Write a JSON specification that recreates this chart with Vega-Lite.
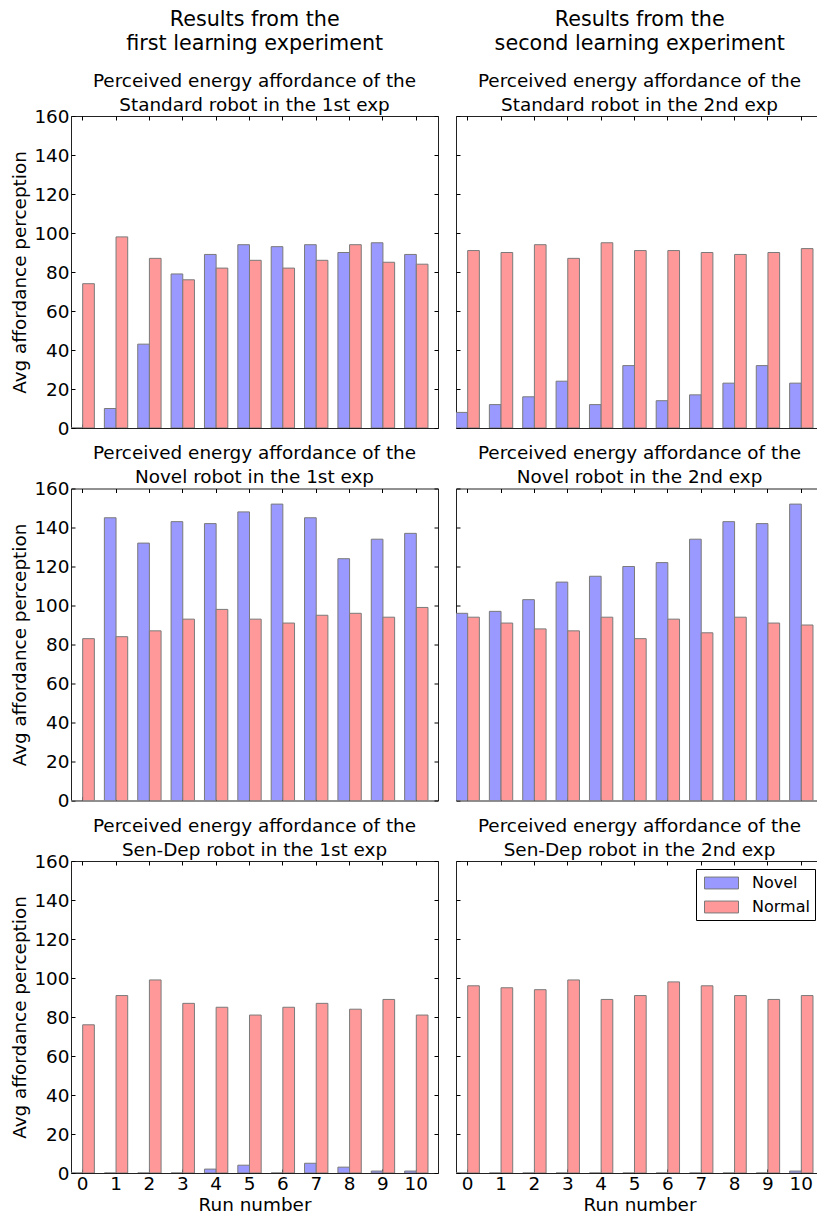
{
  "$schema": "https://vega.github.io/schema/vega-lite/v6.json",
  "padding": {"left": 10, "top": 9, "right": 0, "bottom": 0},
  "background": "white",
  "config": {
    "font": "DejaVu Sans",
    "view": {"stroke": "#222", "strokeWidth": 1},
    "axis": {"grid": false, "domain": false, "tickColor": "#000", "tickSize": -4, "labelFontSize": 18.4, "labelColor": "#000", "titleFontSize": 18.4, "titleFontWeight": "normal", "titleColor": "#000", "labelPadding": 6, "labelAngle": 0},
    "axisX": {"labelPadding": 5},
    "title": {"fontSize": 18.4, "fontWeight": "normal", "color": "#000", "lineHeight": 24, "offset": -7, "anchor": "middle"},
    "concat": {"spacing": 5.5}
  },
  "datasets": {
    "d": [
      {"exp": "1st", "robot": "Standard", "run": 0, "series": "Novel", "value": 0},
      {"exp": "1st", "robot": "Standard", "run": 0, "series": "Normal", "value": 74},
      {"exp": "1st", "robot": "Standard", "run": 1, "series": "Novel", "value": 10},
      {"exp": "1st", "robot": "Standard", "run": 1, "series": "Normal", "value": 98},
      {"exp": "1st", "robot": "Standard", "run": 2, "series": "Novel", "value": 43},
      {"exp": "1st", "robot": "Standard", "run": 2, "series": "Normal", "value": 87},
      {"exp": "1st", "robot": "Standard", "run": 3, "series": "Novel", "value": 79},
      {"exp": "1st", "robot": "Standard", "run": 3, "series": "Normal", "value": 76},
      {"exp": "1st", "robot": "Standard", "run": 4, "series": "Novel", "value": 89},
      {"exp": "1st", "robot": "Standard", "run": 4, "series": "Normal", "value": 82},
      {"exp": "1st", "robot": "Standard", "run": 5, "series": "Novel", "value": 94},
      {"exp": "1st", "robot": "Standard", "run": 5, "series": "Normal", "value": 86},
      {"exp": "1st", "robot": "Standard", "run": 6, "series": "Novel", "value": 93},
      {"exp": "1st", "robot": "Standard", "run": 6, "series": "Normal", "value": 82},
      {"exp": "1st", "robot": "Standard", "run": 7, "series": "Novel", "value": 94},
      {"exp": "1st", "robot": "Standard", "run": 7, "series": "Normal", "value": 86},
      {"exp": "1st", "robot": "Standard", "run": 8, "series": "Novel", "value": 90},
      {"exp": "1st", "robot": "Standard", "run": 8, "series": "Normal", "value": 94},
      {"exp": "1st", "robot": "Standard", "run": 9, "series": "Novel", "value": 95},
      {"exp": "1st", "robot": "Standard", "run": 9, "series": "Normal", "value": 85},
      {"exp": "1st", "robot": "Standard", "run": 10, "series": "Novel", "value": 89},
      {"exp": "1st", "robot": "Standard", "run": 10, "series": "Normal", "value": 84},

      {"exp": "2nd", "robot": "Standard", "run": 0, "series": "Novel", "value": 8},
      {"exp": "2nd", "robot": "Standard", "run": 0, "series": "Normal", "value": 91},
      {"exp": "2nd", "robot": "Standard", "run": 1, "series": "Novel", "value": 12},
      {"exp": "2nd", "robot": "Standard", "run": 1, "series": "Normal", "value": 90},
      {"exp": "2nd", "robot": "Standard", "run": 2, "series": "Novel", "value": 16},
      {"exp": "2nd", "robot": "Standard", "run": 2, "series": "Normal", "value": 94},
      {"exp": "2nd", "robot": "Standard", "run": 3, "series": "Novel", "value": 24},
      {"exp": "2nd", "robot": "Standard", "run": 3, "series": "Normal", "value": 87},
      {"exp": "2nd", "robot": "Standard", "run": 4, "series": "Novel", "value": 12},
      {"exp": "2nd", "robot": "Standard", "run": 4, "series": "Normal", "value": 95},
      {"exp": "2nd", "robot": "Standard", "run": 5, "series": "Novel", "value": 32},
      {"exp": "2nd", "robot": "Standard", "run": 5, "series": "Normal", "value": 91},
      {"exp": "2nd", "robot": "Standard", "run": 6, "series": "Novel", "value": 14},
      {"exp": "2nd", "robot": "Standard", "run": 6, "series": "Normal", "value": 91},
      {"exp": "2nd", "robot": "Standard", "run": 7, "series": "Novel", "value": 17},
      {"exp": "2nd", "robot": "Standard", "run": 7, "series": "Normal", "value": 90},
      {"exp": "2nd", "robot": "Standard", "run": 8, "series": "Novel", "value": 23},
      {"exp": "2nd", "robot": "Standard", "run": 8, "series": "Normal", "value": 89},
      {"exp": "2nd", "robot": "Standard", "run": 9, "series": "Novel", "value": 32},
      {"exp": "2nd", "robot": "Standard", "run": 9, "series": "Normal", "value": 90},
      {"exp": "2nd", "robot": "Standard", "run": 10, "series": "Novel", "value": 23},
      {"exp": "2nd", "robot": "Standard", "run": 10, "series": "Normal", "value": 92},

      {"exp": "1st", "robot": "Novel", "run": 0, "series": "Novel", "value": 0},
      {"exp": "1st", "robot": "Novel", "run": 0, "series": "Normal", "value": 83},
      {"exp": "1st", "robot": "Novel", "run": 1, "series": "Novel", "value": 145},
      {"exp": "1st", "robot": "Novel", "run": 1, "series": "Normal", "value": 84},
      {"exp": "1st", "robot": "Novel", "run": 2, "series": "Novel", "value": 132},
      {"exp": "1st", "robot": "Novel", "run": 2, "series": "Normal", "value": 87},
      {"exp": "1st", "robot": "Novel", "run": 3, "series": "Novel", "value": 143},
      {"exp": "1st", "robot": "Novel", "run": 3, "series": "Normal", "value": 93},
      {"exp": "1st", "robot": "Novel", "run": 4, "series": "Novel", "value": 142},
      {"exp": "1st", "robot": "Novel", "run": 4, "series": "Normal", "value": 98},
      {"exp": "1st", "robot": "Novel", "run": 5, "series": "Novel", "value": 148},
      {"exp": "1st", "robot": "Novel", "run": 5, "series": "Normal", "value": 93},
      {"exp": "1st", "robot": "Novel", "run": 6, "series": "Novel", "value": 152},
      {"exp": "1st", "robot": "Novel", "run": 6, "series": "Normal", "value": 91},
      {"exp": "1st", "robot": "Novel", "run": 7, "series": "Novel", "value": 145},
      {"exp": "1st", "robot": "Novel", "run": 7, "series": "Normal", "value": 95},
      {"exp": "1st", "robot": "Novel", "run": 8, "series": "Novel", "value": 124},
      {"exp": "1st", "robot": "Novel", "run": 8, "series": "Normal", "value": 96},
      {"exp": "1st", "robot": "Novel", "run": 9, "series": "Novel", "value": 134},
      {"exp": "1st", "robot": "Novel", "run": 9, "series": "Normal", "value": 94},
      {"exp": "1st", "robot": "Novel", "run": 10, "series": "Novel", "value": 137},
      {"exp": "1st", "robot": "Novel", "run": 10, "series": "Normal", "value": 99},

      {"exp": "2nd", "robot": "Novel", "run": 0, "series": "Novel", "value": 96},
      {"exp": "2nd", "robot": "Novel", "run": 0, "series": "Normal", "value": 94},
      {"exp": "2nd", "robot": "Novel", "run": 1, "series": "Novel", "value": 97},
      {"exp": "2nd", "robot": "Novel", "run": 1, "series": "Normal", "value": 91},
      {"exp": "2nd", "robot": "Novel", "run": 2, "series": "Novel", "value": 103},
      {"exp": "2nd", "robot": "Novel", "run": 2, "series": "Normal", "value": 88},
      {"exp": "2nd", "robot": "Novel", "run": 3, "series": "Novel", "value": 112},
      {"exp": "2nd", "robot": "Novel", "run": 3, "series": "Normal", "value": 87},
      {"exp": "2nd", "robot": "Novel", "run": 4, "series": "Novel", "value": 115},
      {"exp": "2nd", "robot": "Novel", "run": 4, "series": "Normal", "value": 94},
      {"exp": "2nd", "robot": "Novel", "run": 5, "series": "Novel", "value": 120},
      {"exp": "2nd", "robot": "Novel", "run": 5, "series": "Normal", "value": 83},
      {"exp": "2nd", "robot": "Novel", "run": 6, "series": "Novel", "value": 122},
      {"exp": "2nd", "robot": "Novel", "run": 6, "series": "Normal", "value": 93},
      {"exp": "2nd", "robot": "Novel", "run": 7, "series": "Novel", "value": 134},
      {"exp": "2nd", "robot": "Novel", "run": 7, "series": "Normal", "value": 86},
      {"exp": "2nd", "robot": "Novel", "run": 8, "series": "Novel", "value": 143},
      {"exp": "2nd", "robot": "Novel", "run": 8, "series": "Normal", "value": 94},
      {"exp": "2nd", "robot": "Novel", "run": 9, "series": "Novel", "value": 142},
      {"exp": "2nd", "robot": "Novel", "run": 9, "series": "Normal", "value": 91},
      {"exp": "2nd", "robot": "Novel", "run": 10, "series": "Novel", "value": 152},
      {"exp": "2nd", "robot": "Novel", "run": 10, "series": "Normal", "value": 90},

      {"exp": "1st", "robot": "Sen-Dep", "run": 0, "series": "Novel", "value": 0},
      {"exp": "1st", "robot": "Sen-Dep", "run": 0, "series": "Normal", "value": 76},
      {"exp": "1st", "robot": "Sen-Dep", "run": 1, "series": "Novel", "value": 0},
      {"exp": "1st", "robot": "Sen-Dep", "run": 1, "series": "Normal", "value": 91},
      {"exp": "1st", "robot": "Sen-Dep", "run": 2, "series": "Novel", "value": 0},
      {"exp": "1st", "robot": "Sen-Dep", "run": 2, "series": "Normal", "value": 99},
      {"exp": "1st", "robot": "Sen-Dep", "run": 3, "series": "Novel", "value": 0},
      {"exp": "1st", "robot": "Sen-Dep", "run": 3, "series": "Normal", "value": 87},
      {"exp": "1st", "robot": "Sen-Dep", "run": 4, "series": "Novel", "value": 2},
      {"exp": "1st", "robot": "Sen-Dep", "run": 4, "series": "Normal", "value": 85},
      {"exp": "1st", "robot": "Sen-Dep", "run": 5, "series": "Novel", "value": 4},
      {"exp": "1st", "robot": "Sen-Dep", "run": 5, "series": "Normal", "value": 81},
      {"exp": "1st", "robot": "Sen-Dep", "run": 6, "series": "Novel", "value": 0},
      {"exp": "1st", "robot": "Sen-Dep", "run": 6, "series": "Normal", "value": 85},
      {"exp": "1st", "robot": "Sen-Dep", "run": 7, "series": "Novel", "value": 5},
      {"exp": "1st", "robot": "Sen-Dep", "run": 7, "series": "Normal", "value": 87},
      {"exp": "1st", "robot": "Sen-Dep", "run": 8, "series": "Novel", "value": 3},
      {"exp": "1st", "robot": "Sen-Dep", "run": 8, "series": "Normal", "value": 84},
      {"exp": "1st", "robot": "Sen-Dep", "run": 9, "series": "Novel", "value": 1},
      {"exp": "1st", "robot": "Sen-Dep", "run": 9, "series": "Normal", "value": 89},
      {"exp": "1st", "robot": "Sen-Dep", "run": 10, "series": "Novel", "value": 1},
      {"exp": "1st", "robot": "Sen-Dep", "run": 10, "series": "Normal", "value": 81},

      {"exp": "2nd", "robot": "Sen-Dep", "run": 0, "series": "Novel", "value": 0},
      {"exp": "2nd", "robot": "Sen-Dep", "run": 0, "series": "Normal", "value": 96},
      {"exp": "2nd", "robot": "Sen-Dep", "run": 1, "series": "Novel", "value": 0},
      {"exp": "2nd", "robot": "Sen-Dep", "run": 1, "series": "Normal", "value": 95},
      {"exp": "2nd", "robot": "Sen-Dep", "run": 2, "series": "Novel", "value": 0},
      {"exp": "2nd", "robot": "Sen-Dep", "run": 2, "series": "Normal", "value": 94},
      {"exp": "2nd", "robot": "Sen-Dep", "run": 3, "series": "Novel", "value": 0},
      {"exp": "2nd", "robot": "Sen-Dep", "run": 3, "series": "Normal", "value": 99},
      {"exp": "2nd", "robot": "Sen-Dep", "run": 4, "series": "Novel", "value": 0},
      {"exp": "2nd", "robot": "Sen-Dep", "run": 4, "series": "Normal", "value": 89},
      {"exp": "2nd", "robot": "Sen-Dep", "run": 5, "series": "Novel", "value": 0},
      {"exp": "2nd", "robot": "Sen-Dep", "run": 5, "series": "Normal", "value": 91},
      {"exp": "2nd", "robot": "Sen-Dep", "run": 6, "series": "Novel", "value": 0},
      {"exp": "2nd", "robot": "Sen-Dep", "run": 6, "series": "Normal", "value": 98},
      {"exp": "2nd", "robot": "Sen-Dep", "run": 7, "series": "Novel", "value": 0},
      {"exp": "2nd", "robot": "Sen-Dep", "run": 7, "series": "Normal", "value": 96},
      {"exp": "2nd", "robot": "Sen-Dep", "run": 8, "series": "Novel", "value": 0},
      {"exp": "2nd", "robot": "Sen-Dep", "run": 8, "series": "Normal", "value": 91},
      {"exp": "2nd", "robot": "Sen-Dep", "run": 9, "series": "Novel", "value": 0},
      {"exp": "2nd", "robot": "Sen-Dep", "run": 9, "series": "Normal", "value": 89},
      {"exp": "2nd", "robot": "Sen-Dep", "run": 10, "series": "Novel", "value": 1},
      {"exp": "2nd", "robot": "Sen-Dep", "run": 10, "series": "Normal", "value": 91}
    ]
  },
  "data": {"name": "d"},
  "resolve": {"scale": {"color": "independent"}},
  "spacing": -44,
  "hconcat": [
    {
      "title": {"text": ["Results from the", "first learning experiment"], "offset": 16, "fontSize": 20.7, "dx": 30},
      "resolve": {"scale": {"color": "independent"}},
      "spacing": 5.5,
      "vconcat": [
        {
          "width": 367, "height": 312,
          "title": {"text": ["Perceived energy affordance of the", "Standard robot in the 1st exp"]},
          "transform": [{"filter": "datum.robot === 'Standard' && datum.exp === '1st'"}],
          "resolve": {"axis": {"x": "independent", "y": "independent"}},
          "layer": [
            {"mark": {"type": "bar", "stroke": "#7a7a7a", "strokeWidth": 1, "clip": true},
             "encoding": {
               "x": {"field": "run", "type": "ordinal", "scale": {"paddingInner": 0.3, "paddingOuter": 0.15, "align": 0}, "axis": {"orient": "bottom", "labels": false, "title": null}},
               "xOffset": {"field": "series", "scale": {"domain": ["Novel", "Normal"], "paddingInner": 0}},
               "y": {"field": "value", "type": "quantitative", "stack": null, "scale": {"domain": [0, 160]}, "axis": {"orient": "left", "values": [0, 20, 40, 60, 80, 100, 120, 140, 160], "title": "Avg affordance perception"}},
               "color": {"field": "series", "scale": {"domain": ["Novel", "Normal"], "range": ["#9999ff", "#ff9999"]}, "legend": null}
             }},
            {"mark": {"type": "point", "opacity": 0, "clip": true},
             "encoding": {
               "x": {"field": "run", "type": "ordinal", "axis": {"orient": "top", "labels": false, "title": null}},
               "y": {"field": "value", "type": "quantitative", "axis": {"orient": "right", "labels": false, "title": null, "values": [0, 20, 40, 60, 80, 100, 120, 140, 160]}}
             }}
          ]
        },
        {
          "width": 367, "height": 312,
          "title": {"text": ["Perceived energy affordance of the", "Novel robot in the 1st exp"]},
          "transform": [{"filter": "datum.robot === 'Novel' && datum.exp === '1st'"}],
          "resolve": {"axis": {"x": "independent", "y": "independent"}},
          "layer": [
            {"mark": {"type": "bar", "stroke": "#7a7a7a", "strokeWidth": 1, "clip": true},
             "encoding": {
               "x": {"field": "run", "type": "ordinal", "scale": {"paddingInner": 0.3, "paddingOuter": 0.15, "align": 0}, "axis": {"orient": "bottom", "labels": false, "title": null}},
               "xOffset": {"field": "series", "scale": {"domain": ["Novel", "Normal"], "paddingInner": 0}},
               "y": {"field": "value", "type": "quantitative", "stack": null, "scale": {"domain": [0, 160]}, "axis": {"orient": "left", "values": [0, 20, 40, 60, 80, 100, 120, 140, 160], "title": "Avg affordance perception"}},
               "color": {"field": "series", "scale": {"domain": ["Novel", "Normal"], "range": ["#9999ff", "#ff9999"]}, "legend": null}
             }},
            {"mark": {"type": "point", "opacity": 0, "clip": true},
             "encoding": {
               "x": {"field": "run", "type": "ordinal", "axis": {"orient": "top", "labels": false, "title": null}},
               "y": {"field": "value", "type": "quantitative", "axis": {"orient": "right", "labels": false, "title": null, "values": [0, 20, 40, 60, 80, 100, 120, 140, 160]}}
             }}
          ]
        },
        {
          "width": 367, "height": 312,
          "title": {"text": ["Perceived energy affordance of the", "Sen-Dep robot in the 1st exp"]},
          "transform": [{"filter": "datum.robot === 'Sen-Dep' && datum.exp === '1st'"}],
          "resolve": {"axis": {"x": "independent", "y": "independent"}},
          "layer": [
            {"mark": {"type": "bar", "stroke": "#7a7a7a", "strokeWidth": 1, "clip": true},
             "encoding": {
               "x": {"field": "run", "type": "ordinal", "scale": {"paddingInner": 0.3, "paddingOuter": 0.15, "align": 0}, "axis": {"orient": "bottom", "title": "Run number", "titlePadding": 3}},
               "xOffset": {"field": "series", "scale": {"domain": ["Novel", "Normal"], "paddingInner": 0}},
               "y": {"field": "value", "type": "quantitative", "stack": null, "scale": {"domain": [0, 160]}, "axis": {"orient": "left", "values": [0, 20, 40, 60, 80, 100, 120, 140, 160], "title": "Avg affordance perception"}},
               "color": {"field": "series", "scale": {"domain": ["Novel", "Normal"], "range": ["#9999ff", "#ff9999"]}, "legend": null}
             }},
            {"mark": {"type": "point", "opacity": 0, "clip": true},
             "encoding": {
               "x": {"field": "run", "type": "ordinal", "axis": {"orient": "top", "labels": false, "title": null}},
               "y": {"field": "value", "type": "quantitative", "axis": {"orient": "right", "labels": false, "title": null, "values": [0, 20, 40, 60, 80, 100, 120, 140, 160]}}
             }}
          ]
        }
      ]
    },
    {
      "title": {"text": ["Results from the", "second learning experiment"], "offset": 16, "fontSize": 20.7, "dx": 30},
      "resolve": {"scale": {"color": "independent"}},
      "spacing": 5.5,
      "vconcat": [
        {
          "width": 367, "height": 312,
          "title": {"text": ["Perceived energy affordance of the", "Standard robot in the 2nd exp"]},
          "transform": [{"filter": "datum.robot === 'Standard' && datum.exp === '2nd'"}],
          "resolve": {"axis": {"x": "independent", "y": "independent"}},
          "layer": [
            {"mark": {"type": "bar", "stroke": "#7a7a7a", "strokeWidth": 1, "clip": true},
             "encoding": {
               "x": {"field": "run", "type": "ordinal", "scale": {"paddingInner": 0.3, "paddingOuter": 0.15, "align": 0}, "axis": {"orient": "bottom", "labels": false, "title": null}},
               "xOffset": {"field": "series", "scale": {"domain": ["Novel", "Normal"], "paddingInner": 0}},
               "y": {"field": "value", "type": "quantitative", "stack": null, "scale": {"domain": [0, 160]}, "axis": {"orient": "left", "values": [0, 20, 40, 60, 80, 100, 120, 140, 160], "labelOpacity": 0, "title": "Avg affordance perception", "titleOpacity": 0}},
               "color": {"field": "series", "scale": {"domain": ["Novel", "Normal"], "range": ["#9999ff", "#ff9999"]}, "legend": null}
             }},
            {"mark": {"type": "point", "opacity": 0, "clip": true},
             "encoding": {
               "x": {"field": "run", "type": "ordinal", "axis": {"orient": "top", "labels": false, "title": null}},
               "y": {"field": "value", "type": "quantitative", "axis": {"orient": "right", "labels": false, "title": null, "values": [0, 20, 40, 60, 80, 100, 120, 140, 160]}}
             }}
          ]
        },
        {
          "width": 367, "height": 312,
          "title": {"text": ["Perceived energy affordance of the", "Novel robot in the 2nd exp"]},
          "transform": [{"filter": "datum.robot === 'Novel' && datum.exp === '2nd'"}],
          "resolve": {"axis": {"x": "independent", "y": "independent"}},
          "layer": [
            {"mark": {"type": "bar", "stroke": "#7a7a7a", "strokeWidth": 1, "clip": true},
             "encoding": {
               "x": {"field": "run", "type": "ordinal", "scale": {"paddingInner": 0.3, "paddingOuter": 0.15, "align": 0}, "axis": {"orient": "bottom", "labels": false, "title": null}},
               "xOffset": {"field": "series", "scale": {"domain": ["Novel", "Normal"], "paddingInner": 0}},
               "y": {"field": "value", "type": "quantitative", "stack": null, "scale": {"domain": [0, 160]}, "axis": {"orient": "left", "values": [0, 20, 40, 60, 80, 100, 120, 140, 160], "labelOpacity": 0, "title": "Avg affordance perception", "titleOpacity": 0}},
               "color": {"field": "series", "scale": {"domain": ["Novel", "Normal"], "range": ["#9999ff", "#ff9999"]}, "legend": null}
             }},
            {"mark": {"type": "point", "opacity": 0, "clip": true},
             "encoding": {
               "x": {"field": "run", "type": "ordinal", "axis": {"orient": "top", "labels": false, "title": null}},
               "y": {"field": "value", "type": "quantitative", "axis": {"orient": "right", "labels": false, "title": null, "values": [0, 20, 40, 60, 80, 100, 120, 140, 160]}}
             }}
          ]
        },
        {
          "width": 367, "height": 312,
          "title": {"text": ["Perceived energy affordance of the", "Sen-Dep robot in the 2nd exp"]},
          "transform": [{"filter": "datum.robot === 'Sen-Dep' && datum.exp === '2nd'"}],
          "resolve": {"axis": {"x": "independent", "y": "independent"}},
          "layer": [
            {"mark": {"type": "bar", "stroke": "#7a7a7a", "strokeWidth": 1, "clip": true},
             "encoding": {
               "x": {"field": "run", "type": "ordinal", "scale": {"paddingInner": 0.3, "paddingOuter": 0.15, "align": 0}, "axis": {"orient": "bottom", "title": "Run number", "titlePadding": 3}},
               "xOffset": {"field": "series", "scale": {"domain": ["Novel", "Normal"], "paddingInner": 0}},
               "y": {"field": "value", "type": "quantitative", "stack": null, "scale": {"domain": [0, 160]}, "axis": {"orient": "left", "values": [0, 20, 40, 60, 80, 100, 120, 140, 160], "labelOpacity": 0, "title": "Avg affordance perception", "titleOpacity": 0}},
               "color": {"field": "series", "scale": {"domain": ["Novel", "Normal"], "range": ["#9999ff", "#ff9999"]},
                 "legend": {"title": null, "orient": "top-right", "offset": 8, "padding": 5, "strokeColor": "#000", "fillColor": "white", "symbolType": "M-1,-0.7H3V0.7H-1Z", "symbolSize": 289, "symbolOffset": 3, "symbolStrokeColor": "#7a7a7a", "symbolStrokeWidth": 1, "symbolOpacity": 1, "labelOffset": 30, "labelFontSize": 16, "labelColor": "#000", "rowPadding": 7}}
             }},
            {"mark": {"type": "point", "opacity": 0, "clip": true},
             "encoding": {
               "x": {"field": "run", "type": "ordinal", "axis": {"orient": "top", "labels": false, "title": null}},
               "y": {"field": "value", "type": "quantitative", "axis": {"orient": "right", "labels": false, "title": null, "values": [0, 20, 40, 60, 80, 100, 120, 140, 160]}}
             }}
          ]
        }
      ]
    }
  ]
}
